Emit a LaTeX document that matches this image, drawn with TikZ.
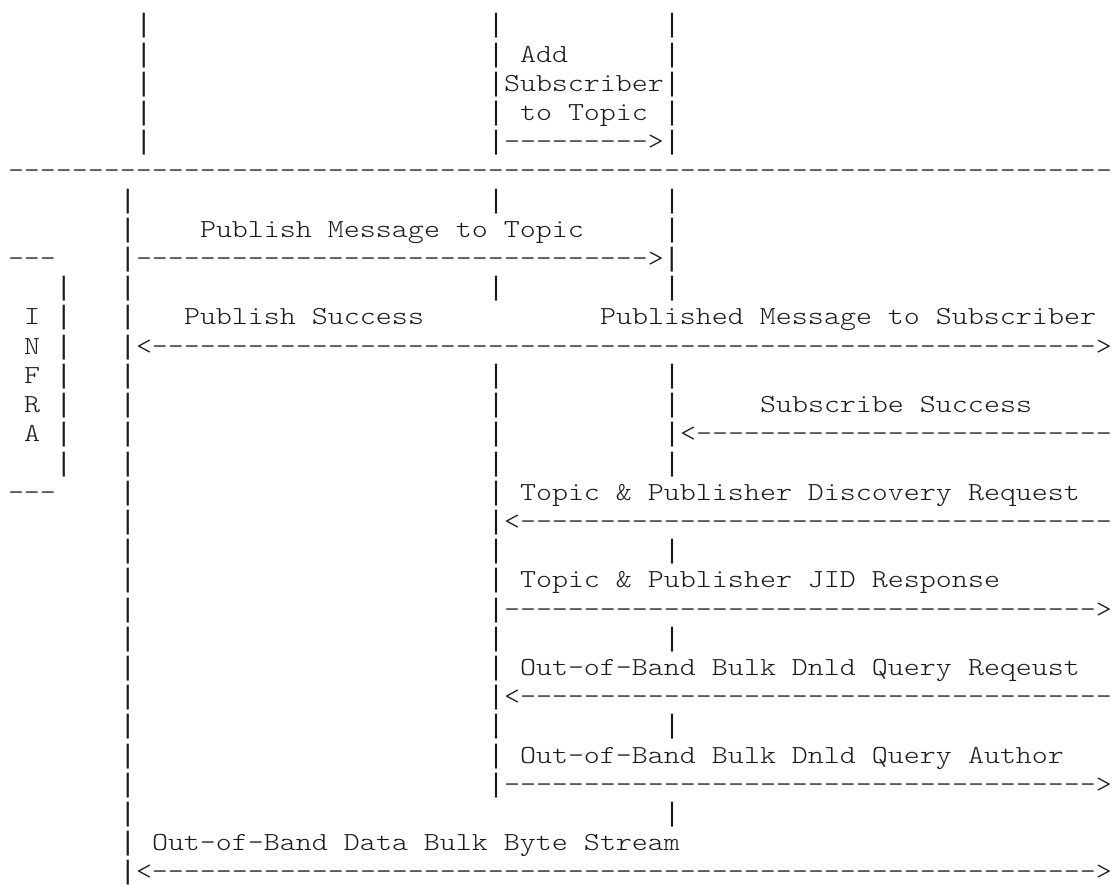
\documentclass[tikz,border=0pt]{standalone}
\usepackage{fontspec}
\newfontfamily\asciifont{lmmonolt10-regular.otf}[FakeStretch=1.172]
\newfontfamily\barfont{Liberation Mono}
\ExplSyntaxOn
\cs_new:Npn \dashrun #1 { \prg_replicate:nn {#1} {-} }
\str_new:N \l_ascii_line_str
\cs_new_protected:Npn \asciiline #1
  {
    \str_set:Nx \l_ascii_line_str {#1}
    \str_map_inline:Nn \l_ascii_line_str
      {
        \str_if_eq:nnTF {##1} {|}
          { \makebox[16pt][c]{\barfont\fontsize{26.67pt}{29.2pt}\selectfont |} }
          { \makebox[16pt][c]{##1} }
      }
  }
\ExplSyntaxOff
\tikzset{
  cellsty/.style={anchor=base west, inner sep=0pt, outer sep=0pt,
    font=\asciifont\fontsize{26pt}{29.2pt}\selectfont, text=black!90}
}
% \cell{col}{row}{text}
\newcommand\cell[3]{\node[cellsty] (r#2c#1) at ({8+16*#1},{33+29.2*#2}) {\asciiline{#3}};}
\begin{document}
\begin{tikzpicture}[x=1pt,y=-1pt]
\useasboundingbox (0,0) rectangle (1114,885);
% top block
\cell{8}{0}{|}\cell{30}{0}{|}\cell{41}{0}{|}
\cell{8}{1}{|}\cell{30}{1}{|}\cell{32}{1}{Add}\cell{41}{1}{|}
\cell{8}{2}{|}\cell{30}{2}{|Subscriber|}
\cell{8}{3}{|}\cell{30}{3}{|}\cell{32}{3}{to Topic}\cell{41}{3}{|}
\cell{8}{4}{|}\cell{30}{4}{|\dashrun{9}>|}
% separator
\cell{0}{5}{\dashrun{69}}
% lower block
\cell{7}{6}{|}\cell{30}{6}{|}\cell{41}{6}{|}
\cell{7}{7}{|}\cell{12}{7}{Publish Message to Topic}\cell{41}{7}{|}
\cell{0}{8}{---}\cell{7}{8}{|\dashrun{32}>|}
\cell{3}{9}{|}\cell{7}{9}{|}\cell{30}{9}{|}\cell{41}{9}{|}
\cell{1}{10}{I}\cell{3}{10}{|}\cell{7}{10}{|}\cell{11}{10}{Publish Success}\cell{37}{10}{Published Message to Subscriber}
\cell{1}{11}{N}\cell{3}{11}{|}\cell{7}{11}{|<\dashrun{59}>}
\cell{1}{12}{F}\cell{3}{12}{|}\cell{7}{12}{|}\cell{30}{12}{|}\cell{41}{12}{|}
\cell{1}{13}{R}\cell{3}{13}{|}\cell{7}{13}{|}\cell{30}{13}{|}\cell{41}{13}{|}\cell{47}{13}{Subscribe Success}
\cell{1}{14}{A}\cell{3}{14}{|}\cell{7}{14}{|}\cell{30}{14}{|}\cell{41}{14}{|<\dashrun{26}}
\cell{3}{15}{|}\cell{7}{15}{|}\cell{30}{15}{|}\cell{41}{15}{|}
\cell{0}{16}{---}\cell{7}{16}{|}\cell{30}{16}{|}\cell{32}{16}{Topic & Publisher Discovery Request}
\cell{7}{17}{|}\cell{30}{17}{|<\dashrun{37}}
\cell{7}{18}{|}\cell{30}{18}{|}\cell{41}{18}{|}
\cell{7}{19}{|}\cell{30}{19}{|}\cell{32}{19}{Topic & Publisher JID Response}
\cell{7}{20}{|}\cell{30}{20}{|\dashrun{37}>}
\cell{7}{21}{|}\cell{30}{21}{|}\cell{41}{21}{|}
\cell{7}{22}{|}\cell{30}{22}{|}\cell{32}{22}{Out-of-Band Bulk Dnld Query Reqeust}
\cell{7}{23}{|}\cell{30}{23}{|<\dashrun{37}}
\cell{7}{24}{|}\cell{30}{24}{|}\cell{41}{24}{|}
\cell{7}{25}{|}\cell{30}{25}{|}\cell{32}{25}{Out-of-Band Bulk Dnld Query Author}
\cell{7}{26}{|}\cell{30}{26}{|\dashrun{37}>}
\cell{7}{27}{|}\cell{41}{27}{|}
\cell{7}{28}{|}\cell{9}{28}{Out-of-Band Data Bulk Byte Stream}
\cell{7}{29}{|<\dashrun{59}>}
\end{tikzpicture}
\end{document}
